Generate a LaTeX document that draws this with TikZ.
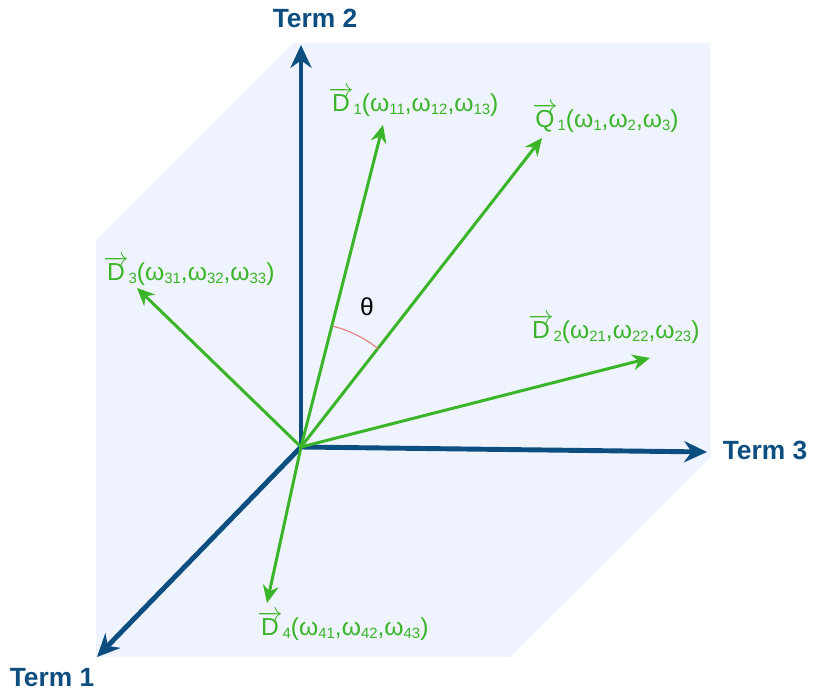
\documentclass[tikz,border=0pt]{standalone}
\usepackage{fontspec}
\setmainfont{Liberation Sans}
\usetikzlibrary{arrows.meta}
\definecolor{axisblue}{RGB}{12,78,128}
\definecolor{vecgreen}{RGB}{58,180,40}
\definecolor{planebg}{RGB}{238,243,253}
\definecolor{arcred}{RGB}{232,120,120}
\newcommand\subnum[1]{\raisebox{-1.2pt}{\fontsize{8.5}{9}\selectfont #1}}
\newcommand\vlab[2]{$\overrightarrow{\mbox{#1}}$\subnum{#2}}
\newcommand\wsub[1]{ω\subnum{#1}}
\tikzset{
  axis/.style={line width=2.8pt,color=axisblue,-{Stealth[length=13pt,width=12pt]}},
  axislabel/.style={text=axisblue,font=\fontsize{15}{18}\selectfont\bfseries},
  vector/.style={line width=1.7pt,color=vecgreen,-{Stealth[length=10pt,width=9pt]}},
  veclabel/.style={text=vecgreen,anchor=base west,inner sep=0pt}
}
\begin{document}
\begin{tikzpicture}[x=0.02cm,y=0.02cm,font=\fontsize{14}{17}\selectfont]
    \useasboundingbox (0,0) rectangle (813,695);
    % Mặt nền
    \fill[planebg] (293,652) -- (710,652) -- (710,237) -- (510,38) -- (96,38) -- (96,455) -- cycle;

    % Gốc và các điểm mút
    \coordinate (O) at (301,248);
    \coordinate (t1) at (97,38);
    \coordinate (t2) at (301,650);
    \coordinate (t3) at (707,243);
    \coordinate (d1) at (383,570);
    \coordinate (q1) at (542,557);
    \coordinate (d2) at (650,337);
    \coordinate (d3) at (137,407);
    \coordinate (d4) at (267,92);

    % Vẽ trục
    \draw[axis] (O) -- (t1);
    \draw[axis] (O) -- (t2);
    \draw[axis] (O) -- (t3);
    \node[axislabel] (term1) at (52,17) {Term 1};
    \node[axislabel] (term2) at (315,677) {Term 2};
    \node[axislabel] (term3) at (765,245) {Term 3};

    % Vẽ các vectơ
    \foreach \v in {d1,q1,d2,d3,d4}
    \draw[vector] (O) -- (\v);

    % Góc theta
    \draw[arcred,line width=0.6pt] (O) ++(75.5:125) arc (75.5:51.5:125);
    \node (theta) at (367,388) {θ};

    % Nhãn vectơ
    \node[veclabel] (ld1) at (328,583) {\vlab{D}{1}(\wsub{11},\wsub{12},\wsub{13})};
    \node[veclabel] (lq1) at (532,567) {\vlab{Q}{1}(\wsub{1},\wsub{2},\wsub{3})};
    \node[veclabel] (ld2) at (528,356) {\vlab{D}{2}(\wsub{21},\wsub{22},\wsub{23})};
    \node[veclabel] (ld3) at (103,414) {\vlab{D}{3}(\wsub{31},\wsub{32},\wsub{33})};
    \node[veclabel] (ld4) at (257,59) {\vlab{D}{4}(\wsub{41},\wsub{42},\wsub{43})};
\end{tikzpicture}
\end{document}
